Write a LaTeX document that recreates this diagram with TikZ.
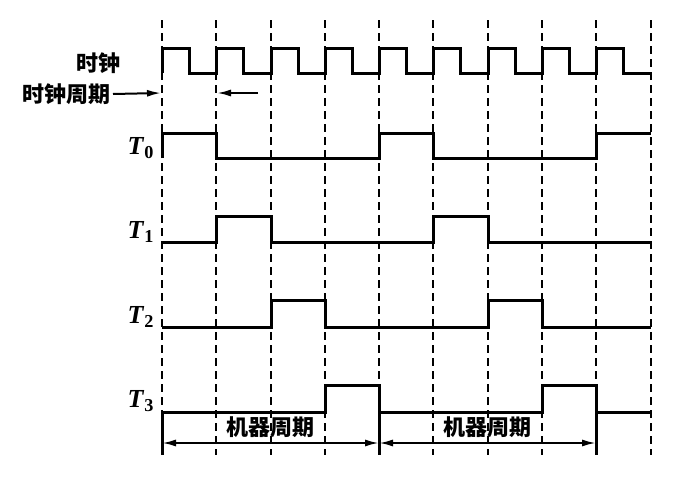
\documentclass[tikz,border=0pt]{standalone}
\usepackage{fontspec}
\setmainfont{Liberation Serif}
\newfontfamily\cjk{Noto Sans CJK SC}
\usetikzlibrary{arrows.meta}
\tikzset{
  wave/.style={line width=1.5pt, line join=miter},
  grid/.style={line width=1.4pt, dash pattern=on 4pt off 2.5pt},
  lbl/.style={font=\cjk\bfseries\fontsize{11}{13}\selectfont, inner sep=0pt},
  tlbl/.style={font=\bfseries\fontsize{13}{15}\selectfont, inner sep=0pt},
  span/.style={line width=1pt, {Latex[length=7pt,width=3.5pt]}-{Latex[length=7pt,width=3.5pt]}},
  tip/.style={line width=1pt, -{Latex[length=7pt,width=3.5pt]}}
}
\begin{document}
\begin{tikzpicture}[x=0.5pt, y=-0.5pt]
  \useasboundingbox (0,0) rectangle (692,477);
  % dashed time grid
  \draw[grid] (162,20) -- (162,455);
  \draw[grid] (216,20) -- (216,455);
  \draw[grid] (271,20) -- (271,455);
  \draw[grid] (325,20) -- (325,455);
  \draw[grid] (379,20) -- (379,455);
  \draw[grid] (433,20) -- (433,455);
  \draw[grid] (488,20) -- (488,455);
  \draw[grid] (542,20) -- (542,455);
  \draw[grid] (596,20) -- (596,455);
  \draw[grid] (651,20) -- (651,455);
  % clock
  \draw[wave] (162,73)
    \foreach \x/\m in {162/189, 216/243, 271/298, 325/352, 379/406,
                       433/460, 488/515, 542/569, 596/623}
      { -- (\x,73) -- (\x,48) -- (\m,48) -- (\m,73) } -- (651,73);
  % T0 .. T3
  \draw[wave] (162,158) -- (162,133) -- (216,133) -- (216,158) -- (379,158)
    -- (379,133) -- (433,133) -- (433,158) -- (596,158) -- (596,133) -- (651,133);
  \draw[wave] (162,242) -- (216,242) -- (216,216) -- (271,216) -- (271,242)
    -- (433,242) -- (433,216) -- (488,216) -- (488,242) -- (651,242);
  \draw[wave] (162,327) -- (271,327) -- (271,300) -- (325,300) -- (325,327)
    -- (488,327) -- (488,300) -- (542,300) -- (542,327) -- (651,327);
  \draw[wave] (162,412) -- (325,412) -- (325,385) -- (379,385) -- (379,412)
    -- (542,412) -- (542,385) -- (596,385) -- (596,412) -- (651,412);
  % labels
  \node[lbl] (clk) at (98,63) {时钟};
  \node[lbl, anchor=east] (clkp) at (111,94) {时钟周期};
  \node[tlbl] (t0) at (141,148) {\textit{T}\textsubscript{0}};
  \node[tlbl] (t1) at (141,232) {\textit{T}\textsubscript{1}};
  \node[tlbl] (t2) at (141,317) {\textit{T}\textsubscript{2}};
  \node[tlbl] (t3) at (141,401) {\textit{T}\textsubscript{3}};
  % clock period arrows
  \coordinate (p0) at (161,93);
  \coordinate (p1) at (217,93);
  \coordinate (p2) at (258,93);
  \draw[tip] (clkp.east) ++(2,0) coordinate (p) (p) -- (p0);
  \draw[tip] (p2) -- (p1);
  % machine cycles
  \coordinate (m0) at (162,443);
  \coordinate (m1) at (379,443);
  \coordinate (m2) at (596,443);
  \draw[wave] (162,412) -- (162,455);
  \draw[wave] (379,412) -- (379,455);
  \draw[wave] (596,412) -- (596,455);
  \draw[span] (m0) -- node[lbl, above=2pt] (mc1) {机器周期} (m1);
  \draw[span] (m1) -- node[lbl, above=2pt] (mc2) {机器周期} (m2);
\end{tikzpicture}
\end{document}
